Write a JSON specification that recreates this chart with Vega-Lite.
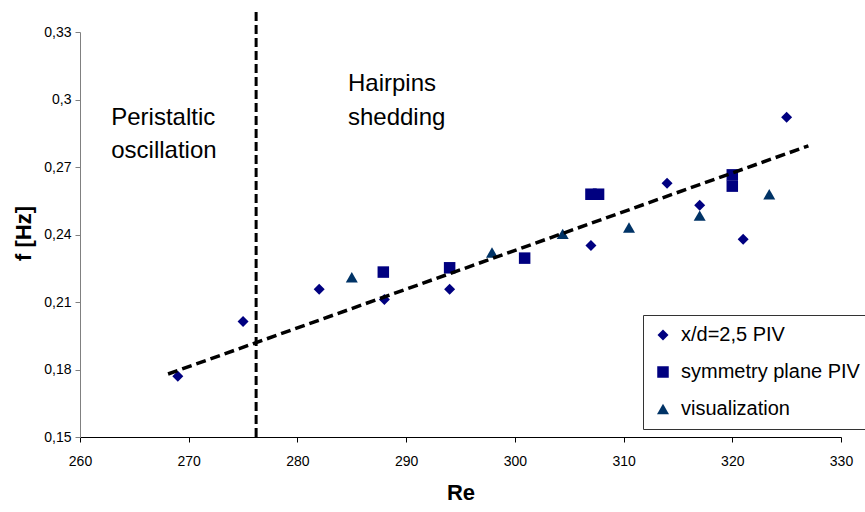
{
  "$schema": "https://vega.github.io/schema/vega-lite/v6.json",
  "width": 761,
  "height": 405,
  "autosize": {"type": "none"},
  "padding": {"left": 80, "top": 32, "right": 24, "bottom": 75},
  "background": "white",
  "config": {
    "view": {"stroke": null},
    "font": "Liberation Sans",
    "legend": {
      "orient": "none",
      "legendX": 563,
      "legendY": 283,
      "fillColor": "white",
      "strokeColor": "#333333",
      "padding": 10,
      "rowPadding": 17,
      "labelFontSize": 20,
      "labelFont": "Liberation Sans",
      "labelColor": "black",
      "labelLimit": 400,
      "symbolSize": 110,
      "labelOffset": 8,
      "symbolStrokeWidth": 0
    }
  },
  "datasets": {
    "points": [
      {"series": "x/d=2,5 PIV", "Re": 269, "f": 0.177},
      {"series": "x/d=2,5 PIV", "Re": 275, "f": 0.2013},
      {"series": "x/d=2,5 PIV", "Re": 282, "f": 0.2157},
      {"series": "x/d=2,5 PIV", "Re": 288, "f": 0.2111},
      {"series": "x/d=2,5 PIV", "Re": 294, "f": 0.2157},
      {"series": "x/d=2,5 PIV", "Re": 307, "f": 0.2351},
      {"series": "x/d=2,5 PIV", "Re": 314, "f": 0.2628},
      {"series": "x/d=2,5 PIV", "Re": 317, "f": 0.253},
      {"series": "x/d=2,5 PIV", "Re": 321, "f": 0.2379},
      {"series": "x/d=2,5 PIV", "Re": 325, "f": 0.2921},
      {"series": "symmetry plane PIV", "Re": 287.9, "f": 0.2233},
      {"series": "symmetry plane PIV", "Re": 294, "f": 0.2252},
      {"series": "symmetry plane PIV", "Re": 300.9, "f": 0.2295},
      {"series": "symmetry plane PIV", "Re": 307, "f": 0.2579},
      {"series": "symmetry plane PIV", "Re": 307.7, "f": 0.2579},
      {"series": "symmetry plane PIV", "Re": 320, "f": 0.2665},
      {"series": "symmetry plane PIV", "Re": 320, "f": 0.2615},
      {"series": "visualization", "Re": 285, "f": 0.221},
      {"series": "visualization", "Re": 297.9, "f": 0.232},
      {"series": "visualization", "Re": 304.4, "f": 0.2403},
      {"series": "visualization", "Re": 310.5, "f": 0.2431},
      {"series": "visualization", "Re": 317, "f": 0.2484},
      {"series": "visualization", "Re": 323.4, "f": 0.2579}
    ],
    "trend": [
      {"Re": 268.1, "f": 0.178},
      {"Re": 327, "f": 0.2794}
    ],
    "boundary": [
      {"Re": 276.2, "f": 0.15, "f2": 0.339}
    ],
    "notes": [
      {"label": "Peristaltic", "Re": 262.87, "f": 0.2887},
      {"label": "oscillation", "Re": 262.87, "f": 0.2739},
      {"label": "Hairpins", "Re": 284.65, "f": 0.3039},
      {"label": "shedding", "Re": 284.65, "f": 0.2887}
    ]
  },
  "layer": [
    {
      "data": {"name": "points"},
      "mark": {"type": "point", "filled": true, "opacity": 1},
      "encoding": {
        "x": {
          "field": "Re", "type": "quantitative",
          "scale": {"domain": [260, 330], "nice": false, "zero": false},
          "axis": {
            "title": "Re",
            "titleFontSize": 22,
            "titleFontWeight": "bold",
            "titleColor": "black",
            "titleY": 55,
            "titleBaseline": "middle",
            "values": [260, 270, 280, 290, 300, 310, 320, 330],
            "domainColor": "black",
            "tickColor": "black",
            "tickSize": 5,
            "labelFontSize": 14,
            "labelColor": "black",
            "labelPadding": 12,
            "labelFlush": false,
            "grid": false
          }
        },
        "y": {
          "field": "f", "type": "quantitative",
          "scale": {"domain": [0.15, 0.33], "nice": false, "zero": false},
          "axis": {
            "title": "f [Hz]",
            "titleFontSize": 22,
            "titleFontWeight": "bold",
            "titleColor": "black",
            "titleX": -57,
            "titleY": 201,
            "titleBaseline": "middle",
            "titleAlign": "center",
            "values": [0.15, 0.18, 0.21, 0.24, 0.27, 0.3, 0.33],
            "labelExpr": "replace(format(datum.value, '.2~f'), '.', ',')",
            "domainColor": "#808080",
            "tickColor": "#808080",
            "tickSize": 5,
            "labelFontSize": 14,
            "labelColor": "black",
            "labelPadding": 4,
            "grid": false
          }
        },
        "shape": {
          "field": "series", "type": "nominal",
          "scale": {"domain": ["x/d=2,5 PIV", "symmetry plane PIV", "visualization"], "range": ["diamond", "square", "triangle-up"]},
          "legend": {"title": null}
        },
        "color": {
          "field": "series", "type": "nominal",
          "scale": {"domain": ["x/d=2,5 PIV", "symmetry plane PIV", "visualization"], "range": ["#000080", "#000080", "#003366"]},
          "legend": {"title": null}
        },
        "size": {
          "field": "series", "type": "nominal",
          "scale": {"domain": ["x/d=2,5 PIV", "symmetry plane PIV", "visualization"], "range": [121, 144, 180]},
          "legend": null
        }
      }
    },
    {
      "data": {"name": "trend"},
      "mark": {"type": "line", "color": "black", "strokeWidth": 3.5, "strokeDash": [10, 5]},
      "encoding": {
        "x": {"field": "Re", "type": "quantitative"},
        "y": {"field": "f", "type": "quantitative"}
      }
    },
    {
      "data": {"name": "boundary"},
      "mark": {"type": "rule", "color": "black", "strokeWidth": 3, "strokeDash": [9, 4]},
      "encoding": {
        "x": {"field": "Re", "type": "quantitative"},
        "y": {"field": "f", "type": "quantitative"},
        "y2": {"field": "f2"}
      }
    },
    {
      "data": {"name": "notes"},
      "mark": {"type": "text", "align": "left", "baseline": "alphabetic", "fontSize": 24, "font": "Liberation Sans", "color": "black"},
      "encoding": {
        "x": {"field": "Re", "type": "quantitative"},
        "y": {"field": "f", "type": "quantitative"},
        "text": {"field": "label", "type": "nominal"}
      }
    }
  ]
}
